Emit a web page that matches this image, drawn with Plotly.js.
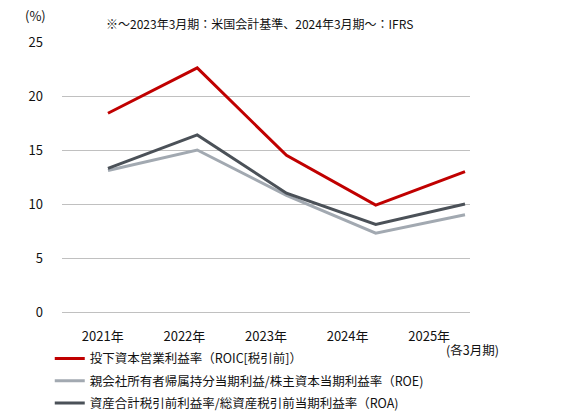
<!DOCTYPE html>
<html>
<head>
<meta charset="utf-8">
<script src="https://cdn.plot.ly/plotly-3.0.1.min.js"></script>
<style>
  body { margin: 0; background: #fff; }
  #chart { width: 566px; height: 418px; }
</style>
</head>
<body>
<div id="chart"></div>
<script>
// fiscal years (each ending in March)
var years = ["2021年", "2022年", "2023年", "2024年", "2025年"];

// ROIC (pre-tax), ROE, ROA in %
var roic = [18.4, 22.6, 14.5, 9.9, 13.0];
var roe = [13.1, 15.0, 10.8, 7.3, 9.0];
var roa = [13.3, 16.4, 11.0, 8.1, 10.0];

var names = [
  "投下資本営業利益率（ROIC[税引前]）",
  "親会社所有者帰属持分当期利益/株主資本当期利益率（ROE)",
  "資産合計税引前利益率/総資産税引前当期利益率（ROA)"
];

var font = "'Noto Sans CJK JP', 'Noto Sans', sans-serif";

// lines sit on a hidden numeric axis, the year labels on the visible one
var xIdx = years.map(function (y, i) { return i; });

var data = [
  // empty trace so the label axis gets drawn
  { x: xIdx, y: years.map(function () { return null; }), type: "scatter", mode: "lines",
    xaxis: "x", showlegend: false, hoverinfo: "skip" },
  { x: xIdx, y: roic, name: names[0], legendgroup: "a", type: "scatter", mode: "lines",
    xaxis: "x2", line: { color: "#c00000", width: 3 } },
  { x: xIdx, y: roe, name: names[1], legendgroup: "b", type: "scatter", mode: "lines",
    xaxis: "x2", line: { color: "#a2a9b1", width: 3 } },
  { x: xIdx, y: roa, name: names[2], legendgroup: "c", type: "scatter", mode: "lines",
    xaxis: "x2", line: { color: "#4b5158", width: 3 } }
];

var layout = {
  width: 566,
  height: 418,
  margin: { l: 62, r: 96, t: 42, b: 106, autoexpand: false },
  paper_bgcolor: "#fff",
  plot_bgcolor: "#fff",
  font: { family: font, size: 13, color: "#111" },
  showlegend: true,
  legend: {
    x: -0.03, y: -0.118, xanchor: "left", yanchor: "top",
    orientation: "v",
    font: { family: font, size: 12.5, color: "#111" },
    tracegroupgap: 3,
    itemwidth: 30
  },
  xaxis: {
    type: "linear",
    range: [-0.5, 4.5],
    tickmode: "array",
    tickvals: xIdx,
    ticktext: years,
    showgrid: false,
    zeroline: false,
    showline: false,
    ticks: "",
    ticklabelstandoff: 15,
    tickfont: { size: 13, color: "#111" },
    automargin: false,
    fixedrange: true
  },
  xaxis2: {
    overlaying: "x",
    type: "linear",
    range: [-0.515, 4.056],
    visible: false,
    fixedrange: true
  },
  yaxis: {
    range: [0, 25],
    dtick: 5,
    showgrid: true,
    gridcolor: "#c0c0c0",
    gridwidth: 1,
    zeroline: true,
    zerolinecolor: "#c0c0c0",
    zerolinewidth: 1,
    showline: false,
    ticks: "",
    ticklabelstandoff: 18,
    tickfont: { size: 13, color: "#111" },
    automargin: false,
    fixedrange: true
  },
  annotations: [
    { xref: "paper", yref: "paper", x: -0.065, y: 1.055, xanchor: "center", yanchor: "bottom",
      text: "(%)", showarrow: false, font: { size: 13, color: "#111" } },
    { xref: "paper", yref: "paper", x: 0.485, y: 1.03, xanchor: "center", yanchor: "bottom",
      text: "※～2023年3月期：米国会計基準、2024年3月期～：IFRS", showarrow: false,
      font: { size: 12, color: "#111" } },
    { xref: "paper", yref: "paper", x: 1.075, y: -0.097, xanchor: "right", yanchor: "top",
      text: "(各3月期)", showarrow: false, font: { size: 12.5, color: "#111" } }
  ]
};

Plotly.newPlot("chart", data, layout, { displayModeBar: false, staticPlot: true });
</script>
</body>
</html>
